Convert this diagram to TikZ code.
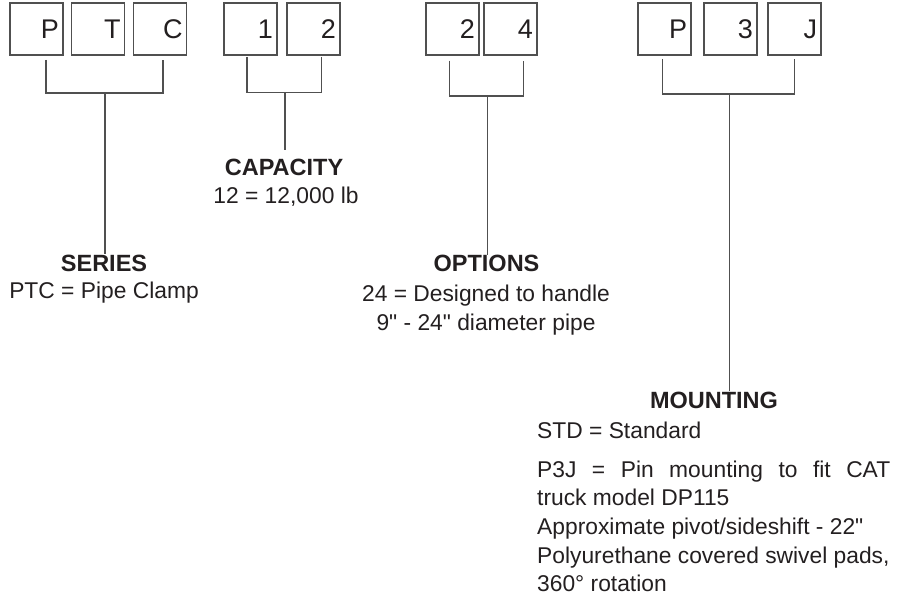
\documentclass[tikz,border=0pt]{standalone}
\usepackage{fontspec}
\newfontfamily\labelfont{Liberation Sans}
\usepackage{xcolor}
\usepackage{tikz}
\usetikzlibrary{positioning,calc}

\definecolor{inkgray}{HTML}{231F20}
\definecolor{rulegray}{HTML}{505050}

\begin{document}
\begin{tikzpicture}[
    x=1pt, y=-1pt,
    digit/.style={draw=rulegray, line width=1.1pt, minimum width=53pt, minimum height=52pt,
      inner xsep=4pt, text width=45pt, align=right, text height=19.5pt, text depth=0pt,
      font=\labelfont\fontsize{27}{30}\selectfont, text=inkgray},
    head/.style={inner sep=0pt, font=\labelfont\bfseries\fontsize{23.5}{28.7}\selectfont, text=inkgray},
    desc/.style={inner sep=0pt, align=center, font=\labelfont\fontsize{22.8}{28.7}\selectfont, text=inkgray},
    brk/.style={draw=rulegray, line width=1.1pt}
  ]
    \useasboundingbox (0,0) rectangle (904,599);

    % Code boxes
    \node[digit] (ser1) at (36.5,29)  {P};
    \node[digit] (ser2) at (98,29)    {T};
    \node[digit] (ser3) at (160,29)   {C};
    \node[digit] (cap1) at (250.5,29) {1};
    \node[digit] (cap2) at (313.5,29) {2};
    \node[digit] (opt1) at (452.5,29) {2};
    \node[digit] (opt2) at (510.5,29) {4};
    \node[digit] (mnt1) at (664.5,29) {P};
    \node[digit] (mnt2) at (730.5,29) {3};
    \node[digit] (mnt3) at (794.5,29) {J};

    % Headings
    \node[head, anchor=base] (series)   at (104,271)   {SERIES};
    \node[head, anchor=base] (capacity) at (284,175)   {CAPACITY};
    \node[head, anchor=base] (options)  at (486.5,271.7) {OPTIONS};
    \node[head, anchor=base] (mounting) at (714,408)   {MOUNTING};

    % Descriptions (base = last line)
    \node[desc, anchor=base] (seriesTxt)   at (104,298) {PTC = Pipe Clamp};
    \node[desc, anchor=base] (capacityTxt) at (286,203) {12 = 12,000 lb};
    \node[desc, anchor=base] (optionsTxt)  at (486,330)
      {24 = Designed to handle\\9" - 24" diameter pipe};
    \node[desc, anchor=base west, align=left] (mountingTxt) at (537,438)
      {\parbox[t]{353pt}{\fontsize{22.8}{28.7}\selectfont STD = Standard\par\vspace{10.3pt}
        \makebox[353pt][s]{P3J = Pin mounting to fit CAT}\\
        truck model DP115\\
        Approximate pivot/sideshift - 22"\\
        Polyurethane covered swivel pads,\\
        360° rotation}};

    % Bracket ends
    \coordinate (serL) at (46,60);    \coordinate (serR) at (163,60);    \coordinate (serM) at (105,93);
    \coordinate (capL) at (247,57);   \coordinate (capR) at (321.7,57);  \coordinate (capM) at (285,92.3);
    \coordinate (optL) at (449.3,60.7); \coordinate (optR) at (523.7,60.7); \coordinate (optM) at (487.7,96);
    \coordinate (mntL) at (662.3,59); \coordinate (mntR) at (794.3,59);  \coordinate (mntM) at (729.3,94);

    % Brackets and stems
    \draw[brk] (serL) |- (serM) -| (serR);
    \draw[brk] (serM) -- (serM |- series.north);
    \draw[brk] (capL) |- (capM) -| (capR);
    \draw[brk] (capM) -- ($(capM |- capacity.north)+(0,-8)$);
    \draw[brk] (optL) |- (optM) -| (optR);
    \draw[brk] (optM) -- (optM |- options.north);
    \draw[brk] (mntL) |- (mntM) -| (mntR);
    \draw[brk] (mntM) -- (mntM |- mounting.north);

  \end{tikzpicture}
\end{document}
